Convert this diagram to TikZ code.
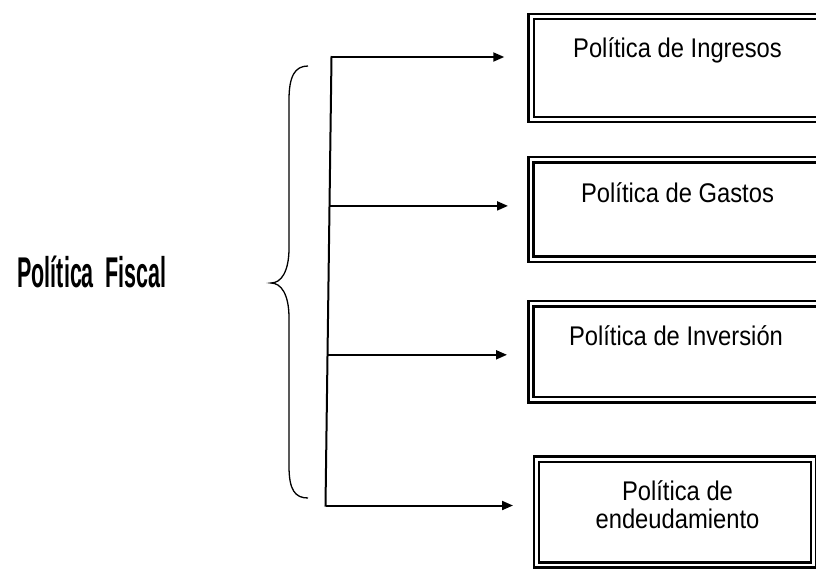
\documentclass[tikz,border=0pt]{standalone}
\usepackage{fontspec}
\usepackage{graphicx}
\setmainfont{Liberation Sans}
\usetikzlibrary{arrows.meta,calc}
\newcommand{\boxtxt}[1]{\scalebox{0.88}[1]{\fontsize{27}{28}\selectfont\begin{tabular}[b]{@{}c@{}}#1\end{tabular}}}
\tikzset{
  dbox/.style={draw, double, line width=2.4pt, double distance=2.8pt, outer sep=0pt, inner sep=0pt, anchor=north west},
  conn/.style={line width=2pt},
  arr/.style={line width=2pt, -{Triangle[length=11pt,width=9pt]}},
  btext/.style={inner sep=0pt, anchor=base},
  brace/.style={line width=1.3pt}
}
\begin{document}
\begin{tikzpicture}[x=1pt,y=-1pt]
\useasboundingbox (0,0) rectangle (816,568);
\clip (0,0) rectangle (816,568);
% title
\node[inner sep=0pt, anchor=base east] (pf) at (167,287)
  {\scalebox{0.5}[1]{\fontsize{43}{43}\selectfont\bfseries Política\ \ Fiscal}};
% brace
\draw[brace] (308,66) .. controls (295,66) and (289,76) .. (289,100) -- (289,248)
  .. controls (289,272) and (281,283) .. (271,283)
  .. controls (281,283) and (289,294) .. (289,318) -- (289,466)
  .. controls (289,490) and (295,498) .. (308,498);
% boxes
\node[dbox, minimum width=340pt, minimum height=103pt] (b1) at (531.25,16.5) {};
\node[dbox, minimum width=340pt, minimum height=99.5pt] (b2) at (531,159.75) {};
\node[dbox, minimum width=340pt, minimum height=96pt] (b3) at (531,303.75) {};
\node[dbox, minimum width=277.25pt, minimum height=105.75pt] (b4) at (536.5,459.25) {};
% texts
\node[btext] (t1) at (677.5,57) {\boxtxt{Política de Ingresos}};
\node[btext] (t2) at (677.5,202) {\boxtxt{Política de Gastos}};
\node[btext] (t3) at (676,345) {\boxtxt{Política de Inversión}};
\node[btext] (t4) at (677.5,528) {\boxtxt{Política de\\endeudamiento}};
% trunk
\coordinate (top) at (331.5,57);
\coordinate (bot) at (325.5,505.5);
\coordinate (m2) at ($(top)!0.332!(bot)$);
\coordinate (m3) at ($(top)!0.664!(bot)$);
\draw[conn, line cap=rect] (top) -- (bot);
\draw[arr, shorten >=27pt] (top) -- (top -| b1.west);
\draw[arr, shorten >=23pt] (m2) -- (m2 -| b2.west);
\draw[arr, shorten >=24pt] (m3) -- (m3 -| b3.west);
\draw[arr, shorten >=23.5pt] (bot) -- (bot -| b4.west);
\end{tikzpicture}
\end{document}
